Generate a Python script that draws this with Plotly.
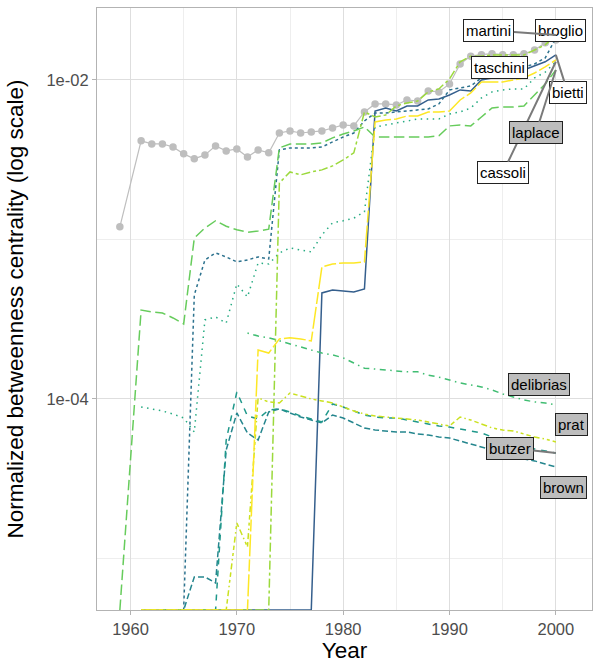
import math
import plotly.graph_objects as go

# ---------------- data ----------------
years = [1959] + list(range(1961, 2001))

overall = [1.20e-3, 4.15e-3, 3.97e-3, 3.97e-3, 3.80e-3, 3.44e-3, 3.20e-3, 3.39e-3, 3.86e-3, 3.59e-3,
           3.69e-3, 3.29e-3, 3.64e-3, 3.49e-3, 4.65e-3, 4.79e-3, 4.65e-3, 4.72e-3, 4.79e-3, 5.00e-3,
           5.22e-3, 5.15e-3, 6.30e-3, 7.07e-3, 7.07e-3, 6.97e-3, 7.49e-3, 7.38e-3, 8.53e-3, 8.41e-3,
           9.44e-3, 1.26e-2, 1.41e-2, 1.44e-2, 1.46e-2, 1.44e-2, 1.44e-2, 1.46e-2, 1.54e-2, 1.71e-2,
           1.78e-2]

bietti = [None] + [0] * 17 + [
    4.62e-4, 4.82e-4, 4.75e-4, 4.69e-4, 4.89e-4,
    6.39e-3, 6.67e-3, 6.39e-3, 6.87e-3, 6.87e-3, 7.49e-3, 7.60e-3, 8.05e-3,
    8.66e-3, 8.53e-3, 1.0e-2, 1.03e-2, 1.044e-2, 1.09e-2, 1.155e-2, 1.224e-2, 1.30e-2, 1.435e-2]

broglio = [None] + [0] * 5 + [
    4.49e-4, 7.44e-4, 8.23e-4, 7.77e-4, 7.23e-4, 7.44e-4, 7.77e-4, 7.55e-4,
    3.64e-3, 3.75e-3, 3.75e-3, 3.75e-3, 3.80e-3, 4.09e-3, 4.39e-3, 4.65e-3, 5.53e-3,
    6.21e-3, 6.21e-3, 6.30e-3, 6.39e-3, 6.48e-3, 6.58e-3, 7.07e-3,
    8.66e-3, 8.91e-3, 9.17e-3, 1.03e-2, 1.075e-2, 1.09e-2, 1.12e-2, 1.206e-2, 1.26e-2, 1.374e-2, 1.83e-2]

brown = [None] + [0] * 5 + [
    7.66e-6, 7.66e-6, 7.02e-6, 4.79e-5, 8.17e-5, 6.12e-5, 5.53e-5, 8.29e-5,
    8.66e-5, 8.17e-5, 7.71e-5, 7.38e-5, 7.07e-5, 7.93e-5, 7.60e-5, 7.07e-5, 6.58e-5,
    6.39e-5, 6.30e-5, 6.21e-5, 6.21e-5, 6.03e-5, 5.94e-5, 5.78e-5, 5.69e-5,
    5.45e-5, 5.22e-5, 5.00e-5, 4.79e-5, 4.46e-5, 4.27e-5, 4.21e-5, 4.09e-5, 3.91e-5, 3.75e-5]

butzer = [None] + [0] * 8 + [
    5.53e-5, 1.106e-4, 7.82e-5, 7.49e-5, 8.53e-5,
    8.66e-5, 8.29e-5, 7.82e-5, 7.49e-5, 7.17e-5, 9.30e-5, 8.91e-5, 8.41e-5, 7.93e-5,
    7.71e-5, 7.60e-5, 7.60e-5, 7.38e-5, 7.17e-5, 6.97e-5, 6.77e-5, 6.67e-5,
    6.48e-5, 6.30e-5, 6.12e-5, 5.78e-5, 5.45e-5, 5.22e-5, 5.07e-5, 4.86e-5, 4.72e-5, 4.58e-5]

cassoli = [None,
    8.91e-5, 8.66e-5, 8.41e-5, 8.05e-5, 7.60e-5, 6.21e-5,
    3.13e-4, 3.27e-4, 2.99e-4, 5.26e-4, 4.36e-4, 7.12e-4, 7.02e-4,
    8.23e-4, 8.84e-4, 8.59e-4, 8.35e-4, 1.067e-3, 1.27e-3, 1.31e-3, 1.36e-3, 1.49e-3,
    5.07e-3, 5.22e-3, 5.38e-3, 5.53e-3, 5.69e-3, 5.69e-3, 5.69e-3, 6.12e-3,
    6.30e-3, 6.67e-3, 7.71e-3, 8.41e-3, 8.66e-3, 8.78e-3, 8.78e-3, 1.03e-2, 1.12e-2, 1.30e-2]

delibrias = [None] * 11 + [
    2.59e-4, 2.48e-4, 2.42e-4, 2.31e-4, 2.21e-4, 2.12e-4, 2.03e-4, 1.94e-4, 1.89e-4, 1.81e-4,
    1.68e-4, 1.56e-4, 1.54e-4, 1.52e-4, 1.50e-4, 1.48e-4, 1.48e-4, 1.41e-4, 1.37e-4, 1.315e-4,
    1.26e-4, 1.224e-4, 1.19e-4, 1.14e-4, 1.075e-4, 1.03e-4, 9.86e-5, 9.58e-5, 9.44e-5, 9.17e-5]

laplace = [0,
    3.61e-4, 3.51e-4, 3.46e-4, 3.22e-4, 2.95e-4,
    1.02e-3, 1.18e-3, 1.31e-3, 1.21e-3, 1.15e-3, 1.11e-3, 1.13e-3, 1.16e-3,
    3.75e-3, 3.97e-3, 3.97e-3, 3.97e-3, 4.03e-3, 4.33e-3, 4.58e-3, 4.79e-3, 5.07e-3,
    4.39e-3, 4.39e-3, 4.39e-3, 4.39e-3, 4.39e-3, 4.39e-3, 4.46e-3,
    5.15e-3, 5.22e-3, 5.15e-3, 5.86e-3, 6.67e-3, 6.77e-3, 6.77e-3, 6.87e-3, 8.05e-3, 9.44e-3, 1.155e-2]

martini = [None] + [0] * 13 + [
    2.26e-3, 2.65e-3, 2.54e-3, 2.65e-3, 2.73e-3, 2.89e-3, 3.15e-3, 3.49e-3, 6.30e-3,
    5.86e-3, 6.03e-3, 6.87e-3, 7.17e-3, 7.38e-3, 8.41e-3, 8.78e-3, 1.015e-2,
    1.30e-2, 1.41e-2, 1.41e-2, 1.435e-2, 1.435e-2, 1.435e-2, 1.435e-2, 1.54e-2, 1.66e-2, 1.91e-2]

prat = [None] + [0] * 9 + [
    1.67e-5, 1.18e-5, 1.015e-4, 9.58e-5, 9.44e-5, 1.09e-4, 1.044e-4, 1.0e-4, 9.72e-5, 9.44e-5, 8.91e-5,
    8.41e-5, 8.05e-5, 7.82e-5, 7.71e-5, 7.60e-5, 7.49e-5, 7.38e-5, 7.17e-5, 6.97e-5, 6.77e-5,
    7.71e-5, 7.38e-5, 6.97e-5, 6.58e-5, 6.39e-5, 6.30e-5, 6.03e-5, 5.78e-5, 5.61e-5, 5.38e-5]

taschini = [None] + [0] * 11 + [
    2.03e-4, 1.94e-4, 2.38e-4, 2.42e-4, 2.38e-4, 2.31e-4, 6.72e-4, 7.02e-4, 7.12e-4, 7.12e-4, 7.23e-4,
    5.45e-3, 5.61e-3, 5.69e-3, 5.94e-3, 5.94e-3, 6.30e-3, 6.30e-3, 6.39e-3,
    7.49e-3, 8.29e-3, 9.72e-3, 9.72e-3, 9.72e-3, 1.0e-2, 1.03e-2, 1.106e-2, 1.206e-2, 1.334e-2]

names = ["bietti", "broglio", "brown", "butzer", "cassoli",
         "delibrias", "laplace", "martini", "prat", "taschini"]
series = {"bietti": bietti, "broglio": broglio, "brown": brown, "butzer": butzer,
          "cassoli": cassoli, "delibrias": delibrias, "laplace": laplace,
          "martini": martini, "prat": prat, "taschini": taschini}

# ---------------- styles ----------------
colors = ["#355f8d", "#2c728e", "#25868e", "#1f988b", "#26ab82",
          "#40bd72", "#67cc5c", "#9bd93c", "#cae11f", "#fde725"]
dashes = ["solid", "3px,3px", "6px,3px", "6px,6px", "1.5px,4.5px",
          "1.5px,4.5px,6px,4.5px", "10.5px,4.5px", "3px,3px,9px,3px",
          "1.5px,3px,3px,3px,4.5px,3px,6px,3px", "22px,3px,12px,3px"]

label_fill = {"bietti": "white", "broglio": "white", "brown": "#bdbdbd", "butzer": "#bdbdbd",
              "cassoli": "white", "delibrias": "#bdbdbd", "laplace": "#bdbdbd",
              "martini": "white", "prat": "#bdbdbd", "taschini": "white"}
# label offsets (pixels) from the series' last point, and whether a leader is drawn
label_pos = {"martini": (-67, -5, True), "broglio": (5, -8, False), "taschini": (-56, 8, False),
             "bietti": (12, 38, True), "laplace": (-20, 63, True), "cassoli": (-53, 111, True),
             "delibrias": (-17, -20, False), "prat": (16, -17, False),
             "butzer": (-46, -5, True), "brown": (8, 21, False)}

YLOG = [-5.323, -1.549]
XR = [1956.85, 2003.4]
floor = 10 ** YLOG[0]
FONT = "Liberation Sans, Arial, sans-serif"

fig = go.Figure()
fig.add_trace(go.Scatter(x=years, y=overall, mode="lines+markers",
                         line=dict(color="#bebebe", width=1.2),
                         marker=dict(color="#bebebe", size=7.5),
                         showlegend=False, hoverinfo="skip"))

for i, n in enumerate(names):
    ys = [None if v is None else (floor if v == 0 else v) for v in series[n]]
    fig.add_trace(go.Scatter(x=years, y=ys, mode="lines", name=n,
                             line=dict(color=colors[i], width=1.5, dash=dashes[i]),
                             connectgaps=False, showlegend=False))

for n in names:
    last = series[n][-1]
    ax, ay, leader = label_pos[n]
    fig.add_annotation(x=years[-1], y=math.log10(last), xref="x", yref="y",
                       ax=ax, ay=ay, text=n, showarrow=True, arrowhead=0,
                       arrowwidth=2, standoff=0,
                       arrowcolor="#7a7a7a" if leader else "rgba(0,0,0,0)",
                       bgcolor=label_fill[n], bordercolor="#222222", borderwidth=1,
                       borderpad=2, font=dict(family=FONT, size=15, color="black"))

fig.update_layout(
    width=593, height=663,
    margin=dict(l=97, r=1, t=8, b=53, autoexpand=False),
    paper_bgcolor="white", plot_bgcolor="white",
    font=dict(family=FONT),
    showlegend=False,
)
fig.update_xaxes(
    range=XR, tickvals=[1960, 1970, 1980, 1990, 2000], automargin=False,
    showgrid=True, gridcolor="#dedede", gridwidth=1.1,
    minor=dict(tickvals=[1965, 1975, 1985, 1995], showgrid=True,
               gridcolor="#eeeeee", gridwidth=0.6, ticklen=0),
    showline=True, mirror=True, linecolor="#b3b3b3", linewidth=1.2,
    ticks="outside", ticklen=4, tickcolor="#b3b3b3", tickwidth=1.2,
    tickfont=dict(size=16.5, color="#4d4d4d", family=FONT),
    zeroline=False,
    title=dict(text="Year", font=dict(size=22.5, color="black", family=FONT), standoff=5),
)
fig.update_yaxes(
    type="log", range=YLOG, tickvals=[1e-4, 1e-2], ticktext=["1e-04", "1e-02"], automargin=False,
    showgrid=True, gridcolor="#dedede", gridwidth=1.1,
    minor=dict(tickvals=[1e-5, 1e-3], showgrid=True,
               gridcolor="#eeeeee", gridwidth=0.6, ticklen=0),
    showline=True, mirror=True, linecolor="#b3b3b3", linewidth=1.2,
    ticks="outside", ticklen=4, tickcolor="#b3b3b3", tickwidth=1.2,
    tickfont=dict(size=16.5, color="#4d4d4d", family=FONT),
    zeroline=False,
    title=dict(text="Normalized betweenness centrality (log scale)",
               font=dict(size=22.5, color="black", family=FONT), standoff=16),
)

fig.write_html("out.html", config={"displayModeBar": False},
               post_script="document.body.style.margin='0';document.body.style.overflow='hidden';")
